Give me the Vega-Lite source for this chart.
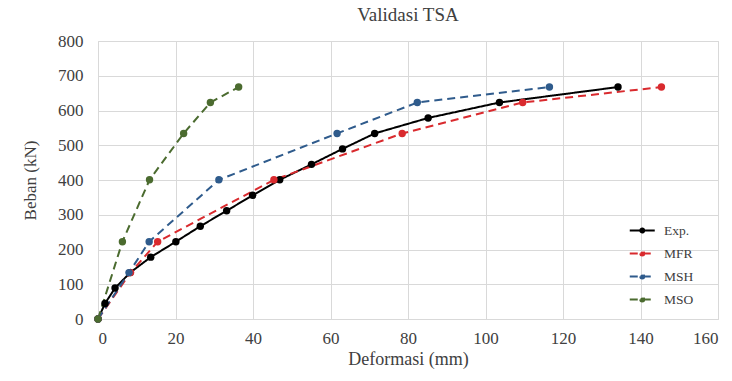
{
  "$schema": "https://vega.github.io/schema/vega-lite/v6.json",
  "autosize": {"type": "none"},
  "width": 620,
  "height": 278,
  "padding": {"left": 98, "top": 41, "right": 14, "bottom": 62},
  "background": "white",
  "title": {"text": "Validasi TSA", "font": "Liberation Serif", "fontSize": 19, "fontWeight": "normal", "color": "#404040", "offset": 7},
  "data": {"values": [
    {"series": "Exp.", "x": 0, "y": 0},
    {"series": "Exp.", "x": 1.8, "y": 44.5},
    {"series": "Exp.", "x": 4.4, "y": 89},
    {"series": "Exp.", "x": 8.3, "y": 133.5},
    {"series": "Exp.", "x": 13.6, "y": 178},
    {"series": "Exp.", "x": 20.1, "y": 222.5},
    {"series": "Exp.", "x": 26.4, "y": 267},
    {"series": "Exp.", "x": 33.2, "y": 311.5},
    {"series": "Exp.", "x": 39.9, "y": 356},
    {"series": "Exp.", "x": 46.9, "y": 400.5},
    {"series": "Exp.", "x": 55.1, "y": 445},
    {"series": "Exp.", "x": 63.1, "y": 489.5},
    {"series": "Exp.", "x": 71.4, "y": 534},
    {"series": "Exp.", "x": 85.2, "y": 578.5},
    {"series": "Exp.", "x": 103.6, "y": 623},
    {"series": "Exp.", "x": 134.2, "y": 667.5},
    {"series": "MFR", "x": 0, "y": 0},
    {"series": "MFR", "x": 8.4, "y": 133.5},
    {"series": "MFR", "x": 15.4, "y": 222.5},
    {"series": "MFR", "x": 45.4, "y": 400.5},
    {"series": "MFR", "x": 78.5, "y": 534},
    {"series": "MFR", "x": 109.6, "y": 623},
    {"series": "MFR", "x": 145.4, "y": 667.5},
    {"series": "MSH", "x": 0, "y": 0},
    {"series": "MSH", "x": 8.0, "y": 133.5},
    {"series": "MSH", "x": 13.2, "y": 222.5},
    {"series": "MSH", "x": 31.2, "y": 400.5},
    {"series": "MSH", "x": 61.7, "y": 534},
    {"series": "MSH", "x": 82.4, "y": 623},
    {"series": "MSH", "x": 116.5, "y": 667.5},
    {"series": "MSO", "x": 0, "y": 0},
    {"series": "MSO", "x": 6.3, "y": 222.5},
    {"series": "MSO", "x": 13.3, "y": 400.5},
    {"series": "MSO", "x": 22.1, "y": 534},
    {"series": "MSO", "x": 29.0, "y": 623},
    {"series": "MSO", "x": 36.3, "y": 667.5}
  ]},
  "encoding": {
    "x": {"field": "x", "type": "quantitative", "scale": {"domain": [0, 160], "nice": false},
      "axis": {"title": "Deformasi (mm)", "values": [0,20,40,60,80,100,120,140,160], "labelOverlap": false,
        "labelFont": "Liberation Serif", "labelFontSize": 17, "labelColor": "#404040", "labelPadding": 11,
        "titleFont": "Liberation Serif", "titleFontSize": 18, "titlePadding": 4}},
    "y": {"field": "y", "type": "quantitative", "scale": {"domain": [0, 800], "nice": false},
      "axis": {"title": "Beban (kN)", "values": [0,100,200,300,400,500,600,700,800], "labelOverlap": false,
        "labelFont": "Liberation Serif", "labelFontSize": 17, "labelColor": "#404040", "labelPadding": 15,
        "titleFont": "Liberation Serif", "titleFontSize": 17, "titlePadding": 18}},
    "color": {"field": "series", "type": "nominal",
      "scale": {"domain": ["Exp.", "MFR", "MSH", "MSO"], "range": ["#000000", "#D92A2E", "#2F5B8C", "#4B6B2F"]},
      "legend": {"title": null, "orient": "none", "legendX": 537, "legendY": 176,
        "symbolType": "M-1.5,0H0.5M-0.66,0a0.16,0.16 0 1,0 0.32,0a0.16,0.16 0 1,0 -0.32,0",
        "symbolSize": 625, "symbolStrokeWidth": 2, "labelFont": "Liberation Serif", "labelFontSize": 13.5,
        "labelColor": "#404040", "labelOffset": 2, "rowPadding": 3}}
  },
  "layer": [
    {"mark": {"type": "line", "strokeWidth": 2},
     "encoding": {"strokeDash": {"field": "series", "type": "nominal",
        "scale": {"domain": ["Exp.", "MFR", "MSH", "MSO"], "range": [[1, 0], [8, 5], [8, 5], [8, 5]]},
        "legend": null}}},
    {"mark": {"type": "point", "filled": true, "size": 55, "opacity": 1}}
  ],
  "config": {
    "view": {"stroke": "#d9d9d9"},
    "font": "Liberation Serif",
    "style": {"guide-label": {"font": "Liberation Serif", "fontSize": 17, "fill": "#404040"}},
    "axis": {"grid": true, "gridColor": "#d9d9d9", "gridWidth": 1, "domain": false, "ticks": false,
      "labelFont": "Liberation Serif", "labelFontSize": 17,
      "titleFontWeight": "normal", "titleColor": "#404040"}
  }
}
